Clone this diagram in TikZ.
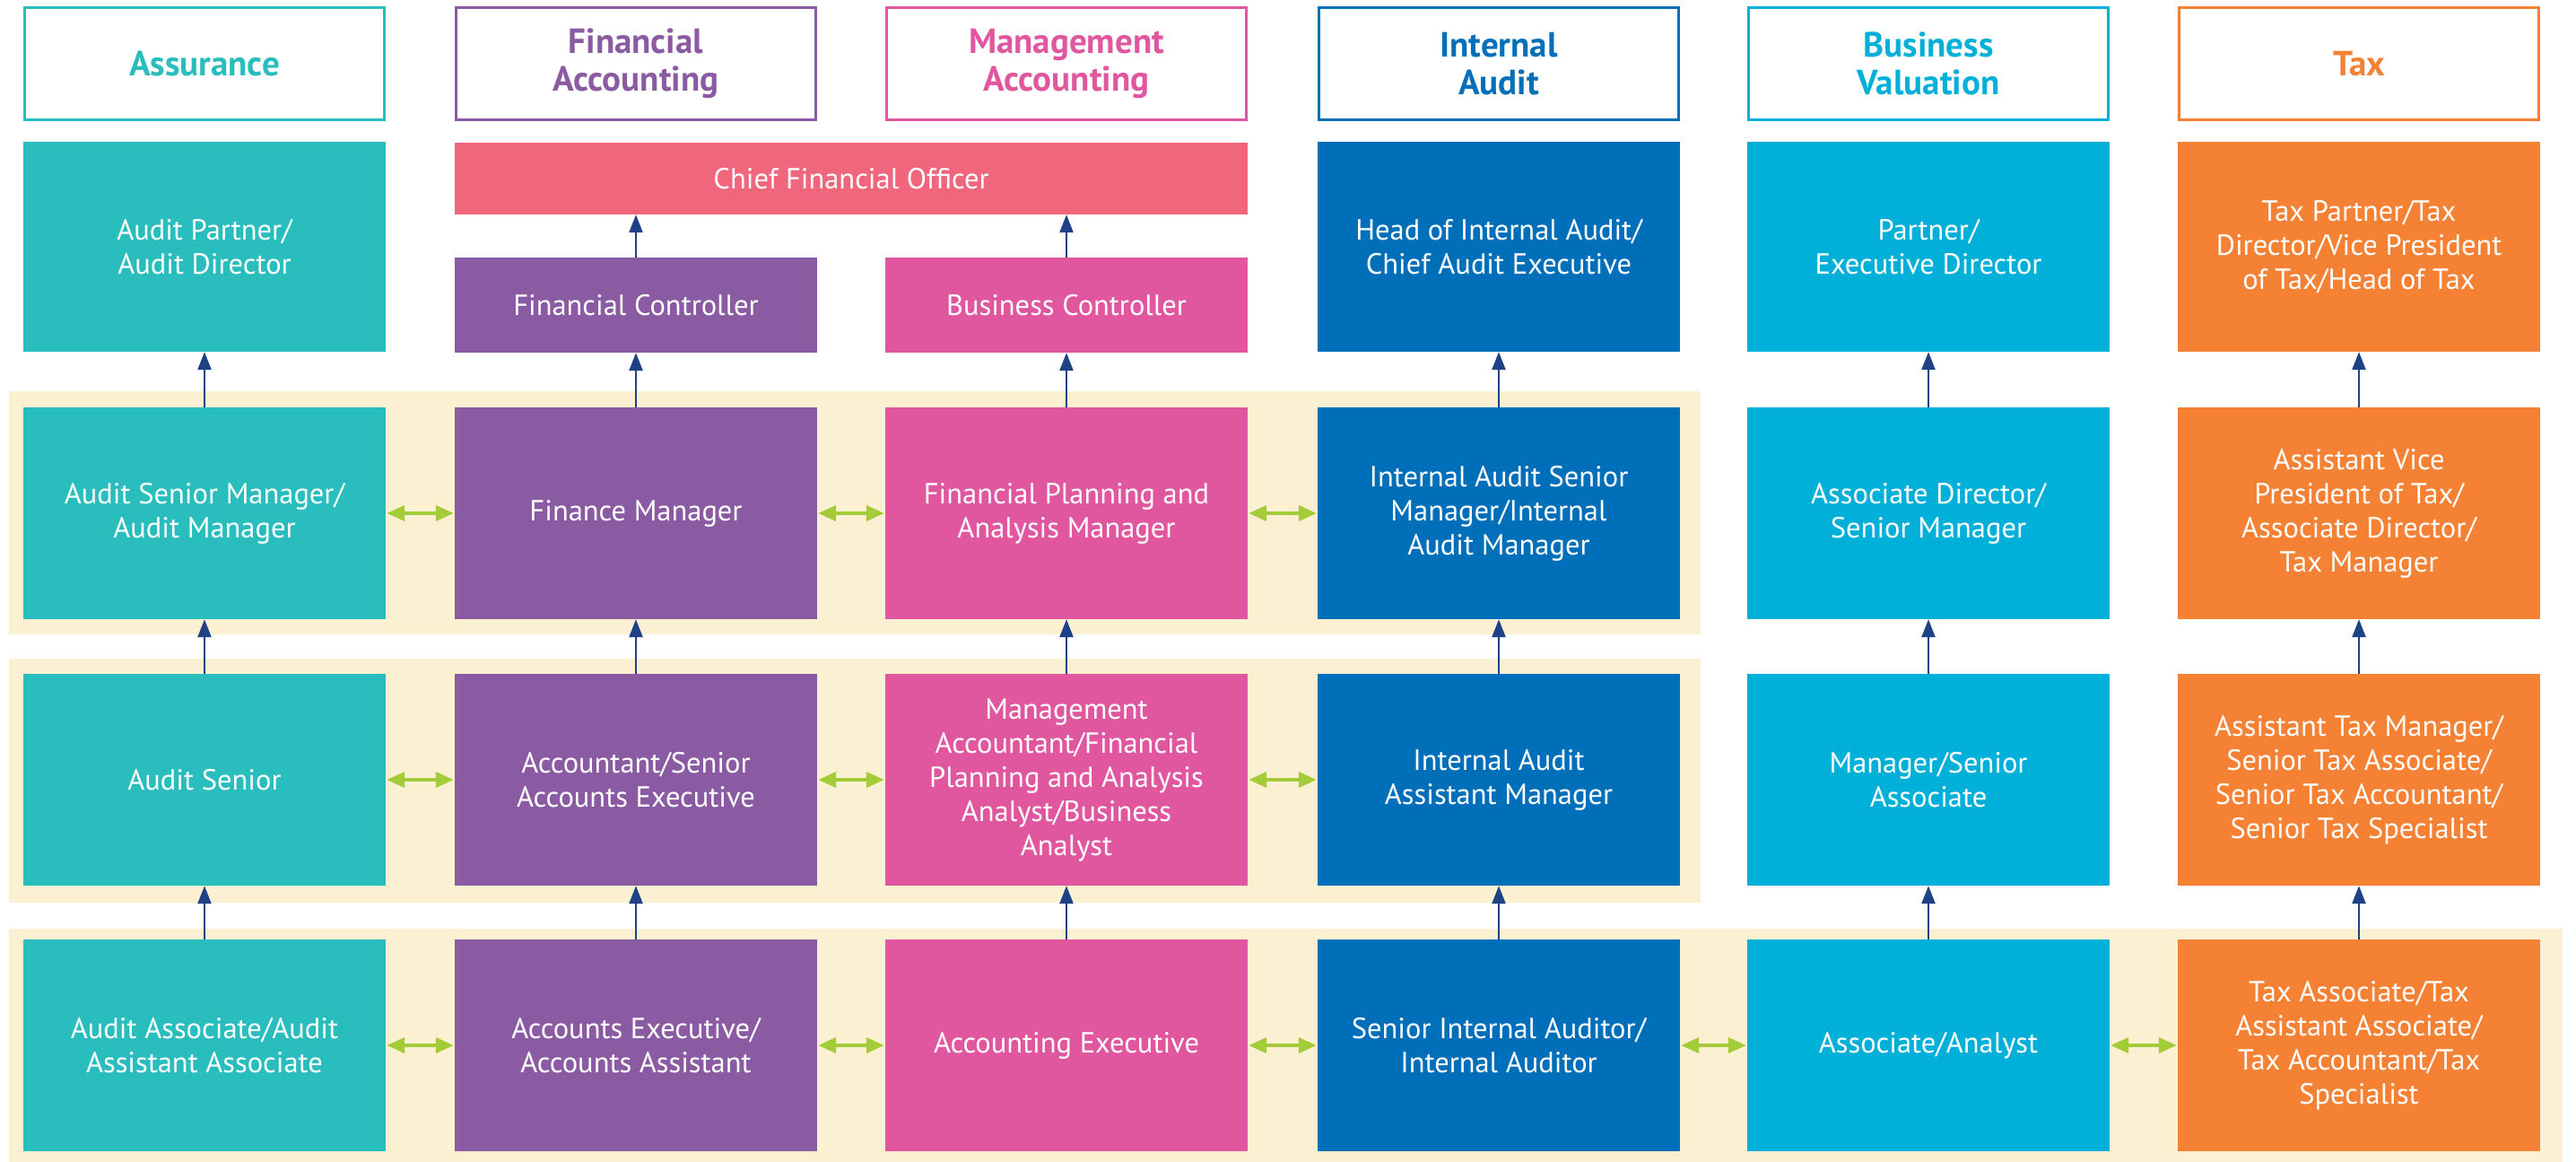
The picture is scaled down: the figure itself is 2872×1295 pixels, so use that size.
\documentclass[tikz,border=0pt]{standalone}
\usepackage{fontspec}
\setmainfont{PT Sans}
\usetikzlibrary{arrows.meta}
\definecolor{cTeal}{HTML}{29BDBD}
\definecolor{cPurple}{HTML}{8A5BA3}
\definecolor{cPink}{HTML}{E0579F}
\definecolor{cRed}{HTML}{F0677D}
\definecolor{cDark}{HTML}{006FBA}
\definecolor{cLight}{HTML}{00B0D8}
\definecolor{cOrange}{HTML}{F48134}
\definecolor{cBand}{HTML}{FCF0D2}
\definecolor{cGreen}{HTML}{A4CC39}
\definecolor{cNavy}{HTML}{1F4287}
\tikzset{
  rolebox/.style={fill=#1, text=white, inner sep=0pt, minimum width=404pt, minimum height=236pt,
    align=center, font=\fontsize{32.5}{38}\selectfont},
  headbox/.style={draw=#1, line width=3pt, fill=white, text=#1, inner sep=0pt,
    minimum width=401pt, minimum height=125pt, align=center,
    font=\fontsize{39}{42}\selectfont\bfseries},
  uparrow/.style={draw=cNavy, line width=2.5pt, -{Triangle[length=20pt,width=15pt]}},
  lrarrow/.style={draw=cGreen, line width=4pt, {Triangle[length=20pt,width=17pt]}-{Triangle[length=20pt,width=17pt]}, shorten <=1pt, shorten >=1pt},
}
\begin{document}
\begin{tikzpicture}[x=1pt,y=-1pt]
\useasboundingbox (0,0) rectangle (2872,1295);
\fill[white] (0,0) rectangle (2872,1295);
% bands
\fill[cBand] (10,436) rectangle (1896,707);
\fill[cBand] (10,734) rectangle (1896,1006);
\fill[cBand] (10,1035) rectangle (2857,1295);
% headers
\node[headbox=cTeal] (h1) at (228,71) {Assurance};
\node[headbox=cPurple] (h2) at (709,71) {Financial\\Accounting};
\node[headbox=cPink] (h3) at (1189,71) {Management\\Accounting};
\node[headbox=cDark] (h4) at (1671,71) {Internal\\Audit};
\node[headbox=cLight] (h5) at (2150,71) {Business\\Valuation};
\node[headbox=cOrange] (h6) at (2630,71) {Tax};
% top row
\node[rolebox=cTeal, minimum height=234pt] (a1) at (228,275) {Audit Partner/\\Audit Director};
\node[rolebox=cRed, minimum width=884pt, minimum height=80pt] (cfo) at (949,199) {Chief Financial Officer};
\node[rolebox=cPurple, minimum height=106pt] (a2) at (709,340) {Financial Controller};
\node[rolebox=cPink, minimum height=106pt] (a3) at (1189,340) {Business Controller};
\node[rolebox=cDark, minimum height=234pt] (a4) at (1671,275) {Head of Internal Audit/\\Chief Audit Executive};
\node[rolebox=cLight, minimum height=234pt] (a5) at (2150,275) {Partner/\\Executive Director};
\node[rolebox=cOrange, minimum height=234pt] (a6) at (2630,275) {Tax Partner/Tax\\Director/Vice President\\of Tax/Head of Tax};
% row B
\node[rolebox=cTeal] (b1) at (228,572) {Audit Senior Manager/\\Audit Manager};
\node[rolebox=cPurple] (b2) at (709,572) {Finance Manager};
\node[rolebox=cPink] (b3) at (1189,572) {Financial Planning and\\Analysis Manager};
\node[rolebox=cDark] (b4) at (1671,572) {Internal Audit Senior\\Manager/Internal\\Audit Manager};
\node[rolebox=cLight] (b5) at (2150,572) {Associate Director/\\Senior Manager};
\node[rolebox=cOrange] (b6) at (2630,572) {Assistant Vice\\President of Tax/\\Associate Director/\\Tax Manager};
% row C
\node[rolebox=cTeal] (c1) at (228,869) {Audit Senior};
\node[rolebox=cPurple] (c2) at (709,869) {Accountant/Senior\\Accounts Executive};
\node[rolebox=cPink] (c3) at (1189,869) {Management\\Accountant/Financial\\Planning and Analysis\\Analyst/Business\\Analyst};
\node[rolebox=cDark] (c4) at (1671,869) {Internal Audit\\Assistant Manager};
\node[rolebox=cLight] (c5) at (2150,869) {Manager/Senior\\Associate};
\node[rolebox=cOrange] (c6) at (2630,869) {Assistant Tax Manager/\\Senior Tax Associate/\\Senior Tax Accountant/\\Senior Tax Specialist};
% row D
\node[rolebox=cTeal] (d1) at (228,1165) {Audit Associate/Audit\\Assistant Associate};
\node[rolebox=cPurple] (d2) at (709,1165) {Accounts Executive/\\Accounts Assistant};
\node[rolebox=cPink] (d3) at (1189,1165) {Accounting Executive};
\node[rolebox=cDark] (d4) at (1671,1165) {Senior Internal Auditor/\\Internal Auditor};
\node[rolebox=cLight] (d5) at (2150,1165) {Associate/Analyst};
\node[rolebox=cOrange] (d6) at (2630,1165) {Tax Associate/Tax\\Assistant Associate/\\Tax Accountant/Tax\\Specialist};
% vertical arrows
\foreach \i in {1,...,6} {
  \draw[uparrow] (d\i.north) -- (c\i.south);
  \draw[uparrow] (c\i.north) -- (b\i.south);
  \draw[uparrow] (b\i.north) -- (a\i.south);
}
\draw[uparrow] (a2.north) -- (a2.north |- cfo.south);
\draw[uparrow] (a3.north) -- (a3.north |- cfo.south);
% horizontal arrows
\foreach \r in {b,c,d} {
  \draw[lrarrow] (\r1.east) -- (\r2.west);
  \draw[lrarrow] (\r2.east) -- (\r3.west);
  \draw[lrarrow] (\r3.east) -- (\r4.west);
}
\draw[lrarrow] (d4.east) -- (d5.west);
\draw[lrarrow] (d5.east) -- (d6.west);
\end{tikzpicture}
\end{document}
